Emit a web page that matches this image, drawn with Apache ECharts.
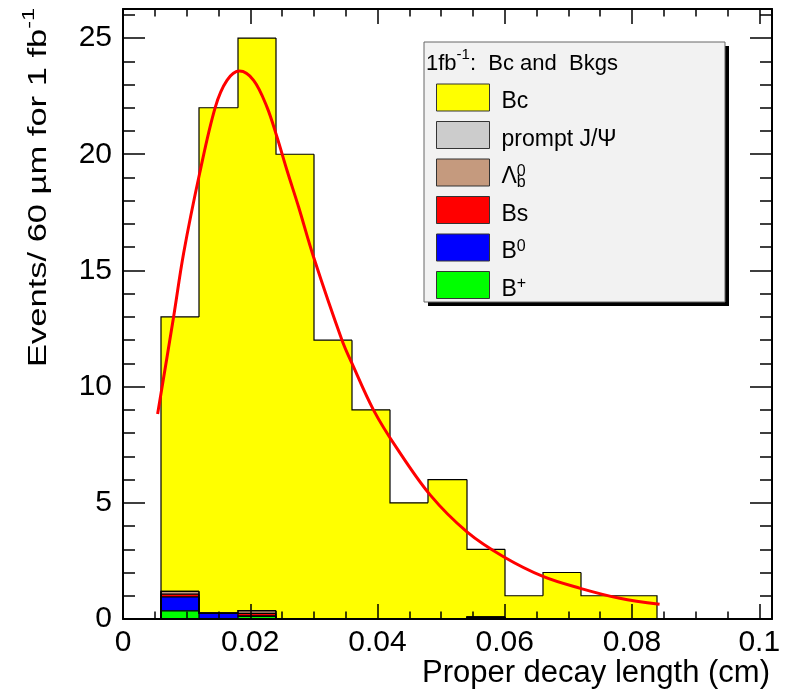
<!DOCTYPE html>
<html><head><meta charset="utf-8">
<script src="https://cdn.jsdelivr.net/npm/echarts@6/dist/echarts.min.js"></script>
<style>html,body{margin:0;padding:0;background:#fff}#c{width:792px;height:696px}</style>
</head><body><div id="c"></div>
<script>
// ---- data ----
const binLow  = [0.006,0.012,0.018,0.024,0.030,0.036,0.042,0.048,0.054,0.060,0.066,0.072,0.078];
const binHigh = [0.012,0.018,0.024,0.030,0.036,0.042,0.048,0.054,0.060,0.066,0.072,0.078,0.084];
const bPlus      = [0.35,0,0.12,0,0,0,0,0,0,0,0,0,0];
const bZero      = [0.60,0.25,0,0,0,0,0,0,0.08,0,0,0,0];
const bS         = [0.12,0,0.12,0,0,0,0,0,0,0,0,0,0];
const lambdaB    = [0.12,0,0.12,0,0,0,0,0,0,0,0,0,0];
const promptJpsi = [0,0,0,0,0,0,0,0,0,0,0,0,0];
const bc         = [11.81,21.75,24.64,20,12,9,5,6,2.92,1,2,1,1];
const fitX = [0.00544,0.00795,0.00952,0.01204,0.01451,0.01634,0.01832,0.02053,0.02263,0.0242,0.02577,0.0276,0.02995,0.03442,0.03599,0.03938,0.04306,0.0483,0.05406,0.05981,0.0661,0.07187,0.07808,0.08433];
const fitY = [8.82,13.0,15.73,19.17,22.03,23.18,23.58,23.18,22.03,20.74,19.31,17.73,15.58,12.0,11.0,8.99,7.34,5.33,3.75,2.68,1.82,1.32,0.89,0.63];
const xTickLabels = ['0','0.02','0.04','0.06','0.08','0.1'];
const yTickLabels = ['0','5','10','15','20','25'];
const seriesNames = ['Bc','prompt J/Ψ','Λb0','Bs','B0','B+'];
const seriesColors = ['#ffff00','#cccccc','#c59a7e','#ff0000','#0000ff','#00ff00'];

// layers bottom -> top
const layers = [bPlus, bZero, bS, lambdaB, promptJpsi, bc];
const cums = [];
let run = binLow.map(() => 0);
for (const l of layers) { run = run.map((v, i) => v + l[i]); cums.push(run.slice()); }
const drawCums = cums.slice().reverse();

const FONT = 'Liberation Sans, Arial, Helvetica, sans-serif';

function makeRender(cum, color) {
  return function (params, api) {
    const i = params.dataIndex;
    const x0 = api.value(0), x1 = api.value(1), h = api.value(2);
    const pA = api.coord([x0, 0]);
    const pB = api.coord([x1, h]);
    const prev = i > 0 ? cum[i - 1] : 0;
    const pP = api.coord([x0, prev]);
    const xl = Math.round(pA[0]), xr = Math.round(pB[0]);
    const pts = [[xl, pP[1]], [xl, pB[1]], [xr, pB[1]]];
    if (i === cum.length - 1) pts.push([xr, pA[1]]);
    return {
      type: 'group',
      children: [
        { type: 'rect', shape: { x: xl, y: pB[1], width: xr - xl, height: pA[1] - pB[1] },
          style: { fill: color }, z2: 1 },
        { type: 'polyline', shape: { points: pts },
          style: { stroke: '#000', lineWidth: 1.2, fill: null }, z2: 5 }
      ]
    };
  };
}

const series = drawCums.map((cum, k) => ({
  type: 'custom',
  name: seriesNames[k],
  xAxisIndex: 0, yAxisIndex: 0,
  itemStyle: { color: seriesColors[k] },
  encode: { x: [0, 1], y: 2 },
  data: binLow.map((lo, i) => [lo, binHigh[i], cum[i]]),
  renderItem: makeRender(cum, seriesColors[k]),
  clip: true,
  z: 2
}));
series.push({
  type: 'line', name: 'fit', xAxisIndex: 0, yAxisIndex: 0,
  data: fitX.map((x, i) => [x, fitY[i]]),
  smooth: 0.35, symbol: 'none', showSymbol: false,
  lineStyle: { color: '#ff0000', width: 3 }, z: 6, silent: true
});

const near = (v, arr, step) => {
  const k = Math.round(v / step);
  return Math.abs(v - k * step) < step * 1e-3 && k < arr.length ? arr[k] : '';
};

const gridRect = { left: 123, right: 20, top: 9, bottom: 77, outerBoundsMode: 'none', containLabel: false };
const XMAX = 0.102, YMAX = 26.25;
const lineSty = { show: true, onZero: false, lineStyle: { color: '#000', width: 2 } };

const xAxes = [
  { gridIndex: 0, type: 'value', position: 'bottom', min: 0, max: XMAX, interval: 0.02, z: 10,
    axisLine: lineSty, splitLine: { show: false },
    axisTick: { show: true, inside: true, length: 15, lineStyle: { color: '#000', width: 1.5 } },
    axisLabel: { show: true, margin: 9, color: '#000', fontSize: 30, fontFamily: FONT,
      formatter: v => near(v, xTickLabels, 0.02) }
  },
  { gridIndex: 0, type: 'value', position: 'top', min: 0, max: XMAX, interval: 0.02, z: 10,
    axisLine: lineSty, splitLine: { show: false },
    axisTick: { show: true, inside: true, length: 15, lineStyle: { color: '#000', width: 1.5 } },
    axisLabel: { show: false } },
  { gridIndex: 1, type: 'value', position: 'bottom', min: 0, max: XMAX, interval: 0.005, z: 10,
    axisLine: { show: false, onZero: false }, splitLine: { show: false },
    axisTick: { show: true, inside: true, length: 7.5, lineStyle: { color: '#000', width: 1.5 } },
    axisLabel: { show: false } },
  { gridIndex: 1, type: 'value', position: 'top', min: 0, max: XMAX, interval: 0.005, z: 10,
    axisLine: { show: false, onZero: false }, splitLine: { show: false },
    axisTick: { show: true, inside: true, length: 7.5, lineStyle: { color: '#000', width: 1.5 } },
    axisLabel: { show: false } }
];
const yAxes = [
  { gridIndex: 0, type: 'value', position: 'left', min: 0, max: YMAX, interval: 5, z: 10,
    axisLine: lineSty, splitLine: { show: false },
    axisTick: { show: true, inside: true, length: 22, lineStyle: { color: '#000', width: 1.5 } },
    axisLabel: { show: true, margin: 11, color: '#000', fontSize: 30, fontFamily: FONT,
      formatter: v => near(v, yTickLabels, 5) }
  },
  { gridIndex: 0, type: 'value', position: 'right', min: 0, max: YMAX, interval: 5, z: 10,
    axisLine: lineSty, splitLine: { show: false },
    axisTick: { show: true, inside: true, length: 22, lineStyle: { color: '#000', width: 1.5 } },
    axisLabel: { show: false } },
  { gridIndex: 1, type: 'value', position: 'left', min: 0, max: YMAX, interval: 1, z: 10,
    axisLine: { show: false, onZero: false }, splitLine: { show: false },
    axisTick: { show: true, inside: true, length: 12, lineStyle: { color: '#000', width: 1.5 } },
    axisLabel: { show: false } },
  { gridIndex: 1, type: 'value', position: 'right', min: 0, max: YMAX, interval: 1, z: 10,
    axisLine: { show: false, onZero: false }, splitLine: { show: false },
    axisTick: { show: true, inside: true, length: 12, lineStyle: { color: '#000', width: 1.5 } },
    axisLabel: { show: false } }
];

const legendNameFmt = {
  'Bc': '{m|Bc}', 'prompt J/Ψ': '{m|prompt J/Ψ}', 'Λb0': '{m|Λ}{sup|0}{sub|b}', 'Bs': '{m|Bs}', 'B0': '{m|B}{sup|0}', 'B+': '{m|B}{sup|+}'
};

const chart = echarts.init(document.getElementById('c'), null, { renderer: 'canvas' });
chart.setOption({
  animation: false,
  backgroundColor: '#ffffff',
  textStyle: { fontFamily: FONT },
  grid: [Object.assign({ show: false }, gridRect), Object.assign({ show: false }, gridRect)],
  xAxis: xAxes,
  yAxis: yAxes,
  legend: {
    data: seriesNames,
    orient: 'vertical', left: 436, top: 79.5, padding: 0,
    itemWidth: 53, itemHeight: 27, itemGap: 1.5, icon: 'rect',
    itemStyle: { borderColor: '#333', borderWidth: 1 },
    selectedMode: false, z: 20,
    formatter: n => legendNameFmt[n] || n,
    textStyle: { color: '#000', fontSize: 23, fontFamily: FONT, lineHeight: 27, padding: [9, 0, 0, 7],
      rich: {
        m: { fontSize: 23, fontFamily: FONT, color: '#000', lineHeight: 27, verticalAlign: 'middle' },
        sup: { fontSize: 16, fontFamily: FONT, color: '#000', verticalAlign: 'top', lineHeight: 2 },
        sub: { fontSize: 16, fontFamily: FONT, color: '#000', verticalAlign: 'bottom', lineHeight: 13, padding: [0, 0, 0, -9] }
      } }
  },
  graphic: [
    { type: 'rect', z: 15, shape: { x: 428, y: 46, width: 301, height: 260 }, style: { fill: '#000' } },
    { type: 'rect', z: 16, shape: { x: 424, y: 42, width: 301, height: 260 }, style: { fill: '#f2f2f2', stroke: '#666', lineWidth: 1 } },
    { type: 'text', z: 17, x: 426, y: 64,
      style: { text: '1fb{sup|-1}:  Bc and  Bkgs', fill: '#000', font: '22px ' + FONT, verticalAlign: 'middle',
        rich: { sup: { fontSize: 15, fontFamily: FONT, fill: '#000', verticalAlign: 'top', lineHeight: 34 } } } },
    { type: 'text', z: 17, x: 39, y: 367, rotation: Math.PI / 2, scaleX: 1.38,
      style: { text: 'Events/ 60 µm for 1 fb{sup|-1}', fill: '#000', font: '25px ' + FONT,
        align: 'left', verticalAlign: 'middle',
        rich: { sup: { fontSize: 17, fontFamily: FONT, fill: '#000', verticalAlign: 'top', lineHeight: 36 } } } },
    { type: 'text', z: 17, x: 770, y: 673,
      style: { text: 'Proper decay length (cm)', fill: '#000', font: '31px ' + FONT,
        align: 'right', verticalAlign: 'middle' } }
  ],
  series: series
});
</script></body></html>
